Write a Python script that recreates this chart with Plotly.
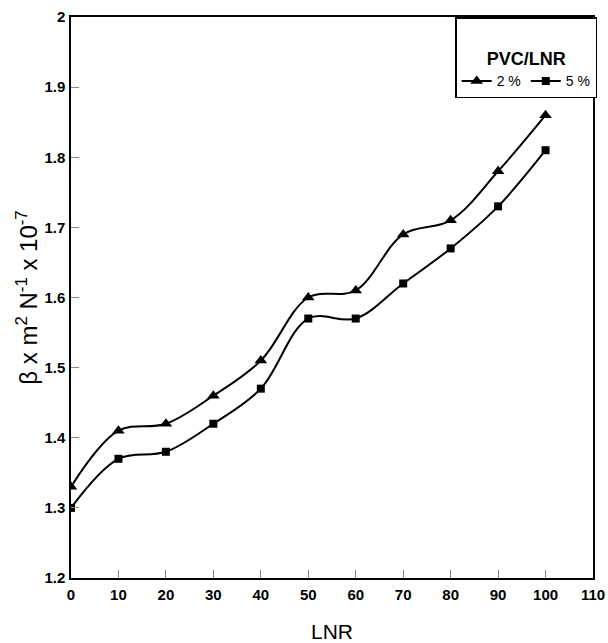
import plotly.graph_objects as go

lnr = [0, 10, 20, 30, 40, 50, 60, 70, 80, 90, 100]
pvc_2 = [1.33, 1.41, 1.42, 1.46, 1.51, 1.60, 1.61, 1.69, 1.71, 1.78, 1.86]
pvc_5 = [1.30, 1.37, 1.38, 1.42, 1.47, 1.57, 1.57, 1.62, 1.67, 1.73, 1.81]
x_ticks = [0, 10, 20, 30, 40, 50, 60, 70, 80, 90, 100, 110]
y_ticks = [1.2, 1.3, 1.4, 1.5, 1.6, 1.7, 1.8, 1.9, 2.0]
y_tick_text = ["1.2", "1.3", "1.4", "1.5", "1.6", "1.7", "1.8", "1.9", "2"]

fig = go.Figure()
fig.add_trace(go.Scatter(
    x=lnr, y=pvc_2, name="2 %", mode="lines+markers",
    line=dict(color="black", width=2, shape="spline", smoothing=1.0),
    marker=dict(symbol="triangle-up", size=11, color="black"),
))
fig.add_trace(go.Scatter(
    x=lnr, y=pvc_5, name="5 %", mode="lines+markers",
    line=dict(color="black", width=2, shape="spline", smoothing=1.0),
    marker=dict(symbol="square", size=8, color="black"),
))

font = "Liberation Sans, Arial, sans-serif"
fig.update_layout(
    width=608, height=643,
    margin=dict(l=71, r=15, t=17, b=65, autoexpand=False),
    paper_bgcolor="white", plot_bgcolor="white",
    font=dict(family=font, color="black", size=13),
    showlegend=True,
    legend=dict(
        title=dict(text="<br><b>PVC/LNR</b>", side="top center", font=dict(size=18)),
        orientation="h", x=1.008, y=1.0, xanchor="right", yanchor="top",
        bordercolor="black", borderwidth=1.5, bgcolor="white",
        font=dict(size=14), itemwidth=30, tracegroupgap=0,
    ),
    xaxis=dict(
        range=[0, 110], tickvals=x_ticks, showgrid=False, zeroline=False,
        showline=True, linecolor="black", linewidth=1.5, mirror=True,
        ticks="inside", ticklen=8, tickcolor="#888", tickwidth=1,
        ticklabelstandoff=2, automargin=False,
        tickfont=dict(size=15, weight="bold"),
        title=dict(text="LNR", font=dict(size=21), standoff=27),
    ),
    yaxis=dict(
        range=[1.2, 2.0], tickvals=y_ticks, ticktext=y_tick_text, showgrid=False,
        zeroline=False, showline=True, linecolor="black", linewidth=1.5, mirror=True,
        ticks="inside", ticklen=8, tickcolor="#888", tickwidth=1,
        ticklabelstandoff=1, automargin=False,
        tickfont=dict(size=15, weight="bold"),
        title=dict(text="β x m<sup>2</sup> N<sup>-1</sup> x 10<sup>-7</sup>", font=dict(size=24), standoff=0),
    ),
)

fig.write_html("out.html", config={"displayModeBar": False},
               post_script="document.body.style.margin='0';")
